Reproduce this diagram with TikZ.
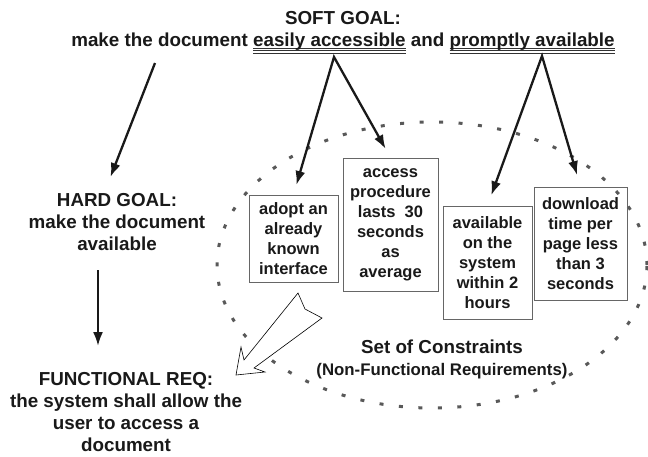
\documentclass[tikz,border=0pt]{standalone}
\usepackage{fontspec}
\setmainfont{Liberation Sans}
\usetikzlibrary{arrows.meta}

% three lines under a word group
\newcommand{\tripleline}[1]{\leavevmode\setbox0\hbox{#1}%
  \rlap{\color{black!80}\rule[-3.1pt]{\wd0}{1.2pt}}%
  \rlap{\color{black!80}\rule[-5pt]{\wd0}{0.9pt}}%
  \rlap{\color{black!80}\rule[-7.2pt]{\wd0}{0.9pt}}\box0\relax}

\begin{document}
\begin{tikzpicture}[x=1pt,y=-1pt,
    goal/.style={font=\fontsize{18.8}{22}\selectfont\bfseries, align=center, anchor=north, inner sep=0pt, text=black!90},
    constraint/.style={draw=black!60, line width=0.8pt, font=\fontsize{16.5}{20}\selectfont\bfseries, align=center, inner sep=0pt, text=black!90},
    goalarrow/.style={line width=2.3pt, black!90, -{Latex[length=14pt,width=10pt]}},
    splitarrow/.style={line width=2.3pt, black!90, {Latex[length=14pt,width=10pt]}-{Latex[length=14pt,width=10pt]}, line join=miter}]

    \useasboundingbox (0,0) rectangle (648,456);

    % the set of constraints
    \draw[black!65, line width=3pt, dash pattern=on 4pt off 15.5pt] (432,265) ellipse [x radius=215pt, y radius=143pt];

    \draw[black, line width=0.6pt, fill=white] (298,293) -- (305,309) -- (322,318) -- (254,368) -- (265,372) -- (236,375) -- (241,347) -- (244,360) -- cycle;

    \node[goal] (soft) at (343,11) {SOFT GOAL:\\ make the document \tripleline{easily accessible} and \tripleline{promptly available}};
    \node[goal] (hard) at (117,193.5) {HARD GOAL:\\ make the document\\ available};
    \node[goal] (func) at (126,371.7) {FUNCTIONAL REQ:\\ the system shall allow the\\ user to access a\\ document};

    \node[constraint, minimum width=89pt, minimum height=87pt] (adopt) at (293.5,238.5) {adopt an\\ already\\ known\\ interface};
    \node[constraint, minimum width=95pt, minimum height=133pt] (access) at (390.5,224.5) {access\\ procedure\\ lasts\ \ 30\\ seconds\\ as\\ average};
    \node[constraint, minimum width=89pt, minimum height=113pt] (avail) at (487.5,262.5) {available\\ on the\\ system\\ within 2\\ hours};
    \node[constraint, minimum width=93pt, minimum height=113pt] (download) at (580.5,243.5) {download\\ time per\\ page less\\ than 3\\ seconds};

    \node[goal] (setlabel) at (442,339.3) {Set of Constraints\\ {\fontsize{16.8}{22}\selectfont (Non-Functional Requirements)}};

    \coordinate (softfoot) at (155,63);
    \coordinate (easyapex) at (334,57);
    \coordinate (promptapex) at (542,56);

    \draw[goalarrow, shorten >=17.7pt] (softfoot) -- ([xshift=-13pt]hard.north);
    \draw[goalarrow, shorten <=19pt, shorten >=25.7pt] ([xshift=-19pt]hard.south) -- ([xshift=-28pt]func.north);
    \draw[splitarrow, shorten <=10pt, shorten >=10pt] (adopt.north) -- (easyapex) -- (access.north);
    \draw[splitarrow, shorten <=11pt, shorten >=12pt] (avail.north) -- (promptapex) -- (download.north);
\end{tikzpicture}
\end{document}
